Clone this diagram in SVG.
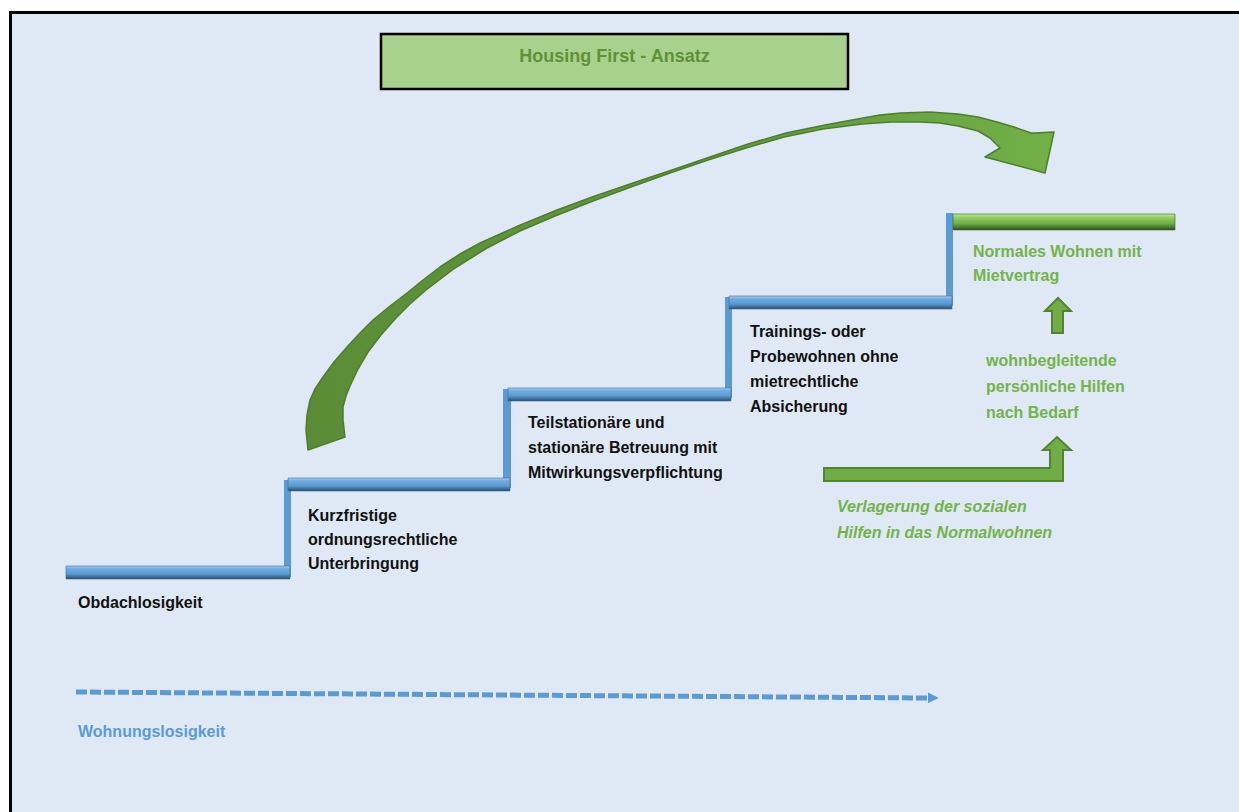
<svg xmlns="http://www.w3.org/2000/svg" width="1239" height="812" viewBox="0 0 1239 812">
<defs>
<linearGradient id="gBlue" x1="0" y1="0" x2="0" y2="1">
<stop offset="0" stop-color="#a9cff0"/>
<stop offset="0.22" stop-color="#6eabe0"/>
<stop offset="0.6" stop-color="#5b9bd5"/>
<stop offset="0.78" stop-color="#46799f"/>
<stop offset="1" stop-color="#2d4f6e"/>
</linearGradient>
<linearGradient id="gGreen" x1="0" y1="0" x2="0" y2="1">
<stop offset="0" stop-color="#bfe69a"/>
<stop offset="0.25" stop-color="#8fcb5f"/>
<stop offset="0.6" stop-color="#70ad47"/>
<stop offset="0.8" stop-color="#4f7f31"/>
<stop offset="1" stop-color="#2f4f1c"/>
</linearGradient>
<linearGradient id="gArc" x1="0" y1="0" x2="1" y2="0">
<stop offset="0" stop-color="#5a8c36"/>
<stop offset="0.7" stop-color="#65a03e"/>
<stop offset="1" stop-color="#72b048"/>
</linearGradient>
<marker id="mDash" viewBox="0 0 10 10" refX="2" refY="5" markerWidth="2.2" markerHeight="2.2" orient="auto" markerUnits="strokeWidth">
<path d="M0,0 L10,5 L0,10 Z" fill="#5b9bd5"/>
</marker>
<style>
.lbl{font-family:"Liberation Sans",Arial,sans-serif;font-weight:bold;font-size:16px;fill:#111111}
.grn{font-family:"Liberation Sans",Arial,sans-serif;font-weight:bold;font-size:16px;fill:#74b34a}
.grni{font-family:"Liberation Sans",Arial,sans-serif;font-weight:bold;font-style:italic;font-size:16px;fill:#74b34a}
.blu{font-family:"Liberation Sans",Arial,sans-serif;font-weight:bold;font-size:16px;fill:#5b9bd5}
.step{fill:url(#gBlue);stroke:#3c6a94;stroke-width:0.6}
.riser{fill:#5b9bd5}
.garrow{fill:#70ad47;stroke:#548235;stroke-width:2;stroke-linejoin:miter}
</style>
</defs>
<rect x="0" y="0" width="1239" height="812" fill="#ffffff"/>
<rect x="10.5" y="12.5" width="1240" height="810" fill="#dee9f5" stroke="#000000" stroke-width="3"/>

<g id="title">
<rect x="381" y="34" width="467" height="55" fill="#a9d18e" stroke="#000000" stroke-width="2.5"/>
<text x="614.5" y="62" text-anchor="middle" font-family="Liberation Sans, Arial, sans-serif" font-weight="bold" font-size="18" fill="#5f9138">Housing First - Ansatz</text>
</g>

<g id="stairs">
<rect class="riser" x="284" y="480" width="7" height="97"/>
<rect class="riser" x="503" y="389" width="8" height="99"/>
<rect class="riser" x="725" y="297" width="7" height="101"/>
<rect class="riser" x="946" y="213" width="7" height="93"/>
<path class="step" d="M66,566 L290,566 L290,579 L66,579 Z"/>
<path class="step" d="M288,478 L510,478 L510,491 L288,491 Z"/>
<path class="step" d="M508,388 L731,388 L731,401 L508,401 Z"/>
<path class="step" d="M729,296 L952,296 L952,309 L729,309 Z"/>
<path d="M953,214 L1175,214 L1175,230 L953,230 Z" fill="url(#gGreen)" stroke="#3d6326" stroke-width="0.6"/>
</g>

<g id="node-obdachlosigkeit">
<text class="lbl" x="78" y="608">Obdachlosigkeit</text>
</g>
<g id="node-kurzfristig">
<text class="lbl" x="308" y="521">Kurzfristige</text>
<text class="lbl" x="308" y="545">ordnungsrechtliche</text>
<text class="lbl" x="308" y="569">Unterbringung</text>
</g>
<g id="node-teilstationaer">
<text class="lbl" x="528" y="428">Teilstationäre und</text>
<text class="lbl" x="528" y="453">stationäre Betreuung mit</text>
<text class="lbl" x="528" y="478">Mitwirkungsverpflichtung</text>
</g>
<g id="node-training">
<text class="lbl" x="750" y="337">Trainings- oder</text>
<text class="lbl" x="750" y="362">Probewohnen ohne</text>
<text class="lbl" x="750" y="387">mietrechtliche</text>
<text class="lbl" x="750" y="412">Absicherung</text>
</g>
<g id="node-normal">
<text class="grn" x="973" y="257">Normales Wohnen mit</text>
<text class="grn" x="973" y="281">Mietvertrag</text>
</g>
<g id="node-hilfen">
<text class="grn" x="986" y="366">wohnbegleitende</text>
<text class="grn" x="986" y="392">persönliche Hilfen</text>
<text class="grn" x="986" y="418">nach Bedarf</text>
</g>
<g id="node-verlagerung">
<text class="grni" x="837" y="512">Verlagerung der sozialen</text>
<text class="grni" x="837" y="538">Hilfen in das Normalwohnen</text>
</g>
<g id="node-wohnungslosigkeit">
<text class="blu" x="78" y="737">Wohnungslosigkeit</text>
</g>

<g id="connectors">
<path d="M308,450 L345,437 L343,420 L343,407 L346,396 L350,386 L358,369 L368,352 L381,335 L396,318 L410,304 L426,290 L455,268 L487,248 L520,231 L555,216 L593,201 L631,187 L670,173 L708,160 L746,148 L784,137 L823,129 L862,124 L891,122 L920,122 L940,123 L958,126 L978,131 L990,138 L1000,148 L985,157 L1045,173 L1054,132 L1035,133 L1031,133 L1014,127 L997,122 L978,117 L958,114 L930,112 L901,113 L880,115 L863,118 L825,125 L786,133 L748,144 L710,157 L672,170 L633,183 L595,196 L557,210 L518,226 L480,243 L460,254 L440,267 L423,280 L407,293 L390,306 L373,320 L360,333 L347,347 L334,362 L323,377 L315,389 L310,400 L307,415 L306,430 Z" fill="url(#gArc)" stroke="#4e7d2e" stroke-width="1.5" stroke-linejoin="round"/>
<path class="garrow" d="M824,468 L1050,468 L1050,450 L1043,450 L1057,437 L1071,450 L1063,450 L1063,481 L824,481 Z"/>
<path class="garrow" d="M1052,333 L1052,311 L1045,311 L1058,298 L1071,311 L1063,311 L1063,333 Z"/>
<line x1="76" y1="692" x2="930" y2="698" stroke="#5b9bd5" stroke-width="5" stroke-dasharray="11 3" marker-end="url(#mDash)"/>
</g>
</svg>
